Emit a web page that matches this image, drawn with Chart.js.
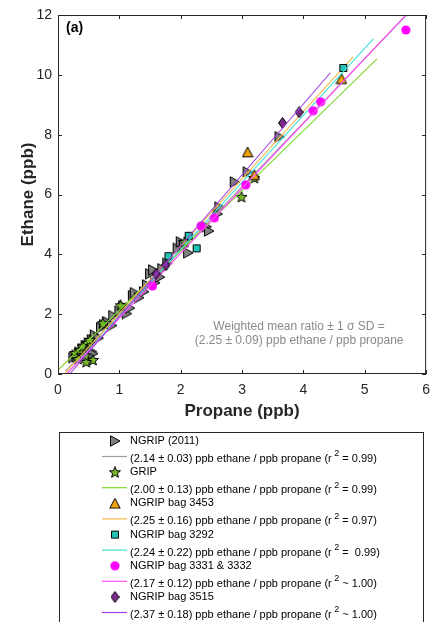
<!DOCTYPE html>
<html>
<head>
<meta charset="utf-8">
<script src="https://cdn.jsdelivr.net/npm/chart.js@4.4.0/dist/chart.umd.min.js"></script>
<style>
  html, body { margin: 0; padding: 0; background: #fff; }
</style>
</head>
<body>
<canvas id="grafico" width="438" height="622"></canvas>
<script>
// data (propane ppb, ethane ppb)
const ngrip2011 = [
  [0.25, 0.55], [0.3, 0.62], [0.35, 0.72], [0.4, 0.85], [0.45, 0.95], [0.5, 1.02],
  [0.55, 0.75], [0.57, 0.68], [0.55, 1.15], [0.6, 1.3], [0.66, 1.2], [0.7, 1.55],
  [0.75, 1.65], [0.8, 1.75], [0.88, 1.62], [0.9, 1.95], [1.0, 2.1], [1.06, 2.27],
  [1.12, 2.02], [1.17, 2.2], [1.22, 2.62], [1.25, 2.72], [1.32, 2.55], [1.4, 2.75],
  [1.45, 2.98], [1.5, 3.35], [1.55, 3.48], [1.58, 3.05], [1.66, 3.24], [1.7, 3.52],
  [1.78, 3.7], [1.95, 4.2], [2.0, 4.42], [2.05, 4.3], [2.12, 4.05], [2.42, 4.92],
  [2.46, 4.78], [2.6, 5.35], [2.63, 5.58], [2.88, 6.42], [3.09, 6.75], [3.61, 7.93]
];
const grip = [
  [0.28, 0.7], [0.36, 0.8], [0.49, 1.04], [0.52, 1.14], [0.57, 0.47], [0.46, 0.4],
  [0.29, 0.57], [0.4, 0.92], [0.45, 0.62], [0.33, 0.5], [0.73, 1.7], [1.02, 2.3],
  [2.06, 4.41], [2.99, 5.92], [3.2, 6.55]
];
const bag3453 = [[3.09, 7.42], [3.2, 6.66], [4.62, 9.87]];
const bag3292 = [[1.8, 3.94], [2.13, 4.62], [2.26, 4.2], [4.65, 10.23]];
const bag3331 = [[1.54, 2.94], [2.33, 4.95], [2.55, 5.22], [3.06, 6.32], [4.16, 8.8], [4.28, 9.1], [5.67, 11.5]];
const bag3515 = [[1.6, 3.35], [1.76, 3.64], [3.66, 8.39], [3.93, 8.75]];

// fitted lines, start and end points
const fit2011 = [[0.12, 0.1], [5.68, 12]];
const fitGrip = [[0, 0.13], [5.2, 10.53]];
const fit3453 = [[0.1, 0], [4.81, 10.6]];
const fit3292 = [[0.14, 0], [5.14, 11.2]];
const fit3331 = [[0.14, 0], [5.67, 12]];
const fit3515 = [[0.19, 0], [4.44, 10.07]];

const labels = [
  'NGRIP (2011)',
  '(2.14 ± 0.03) ppb ethane / ppb propane (r^2 = 0.99)',
  'GRIP',
  '(2.00 ± 0.13) ppb ethane / ppb propane (r^2 = 0.99)',
  'NGRIP bag 3453',
  '(2.25 ± 0.16) ppb ethane / ppb propane (r^2 = 0.97)',
  'NGRIP bag 3292',
  '(2.24 ± 0.22) ppb ethane / ppb propane (r^2 =  0.99)',
  'NGRIP bag 3331 & 3332',
  '(2.17 ± 0.12) ppb ethane / ppb propane (r^2 ~ 1.00)',
  'NGRIP bag 3515',
  '(2.37 ± 0.18) ppb ethane / ppb propane (r^2 ~ 1.00)'
];
const noteLines = ['Weighted mean ratio ± 1 σ SD =', '(2.25 ± 0.09) ppb ethane / ppb propane'];

const FONT = '"Liberation Sans", Arial, Helvetica, sans-serif';
const AXIS = '#262626';

function pts(arr) {
  return arr.map(p => ({ x: p[0], y: p[1] }));
}

// marker images
function marker(shape, fill, stroke) {
  const c = document.createElement('canvas');
  let w = 12, h = 12;
  if (shape === 'diamond') { w = 9; h = 12; }
  if (shape === 'square' || shape === 'circle') { w = 10; h = 10; }
  c.width = w; c.height = h;
  const g = c.getContext('2d');
  g.beginPath();
  if (shape === 'triRight') {
    g.moveTo(1.5, 0.8); g.lineTo(11, 6); g.lineTo(1.5, 11.2);
  } else if (shape === 'triUp') {
    g.moveTo(0.8, 10.8); g.lineTo(6, 1); g.lineTo(11.2, 10.8);
  } else if (shape === 'star') {
    for (let i = 0; i < 10; i++) {
      const r = i % 2 ? 2.5 : 5.8;
      const a = -Math.PI / 2 + i * Math.PI / 5;
      const px = 6 + r * Math.cos(a), py = 6.4 + r * Math.sin(a);
      if (i === 0) g.moveTo(px, py); else g.lineTo(px, py);
    }
  } else if (shape === 'square') {
    g.rect(1.5, 1.5, 7, 7);
  } else if (shape === 'circle') {
    g.arc(5, 5, 4.6, 0, Math.PI * 2);
  } else if (shape === 'diamond') {
    g.moveTo(4.5, 0.5); g.lineTo(8.5, 6); g.lineTo(4.5, 11.5); g.lineTo(0.5, 6);
  }
  g.closePath();
  g.fillStyle = fill;
  g.fill();
  if (stroke) {
    g.strokeStyle = stroke;
    g.lineWidth = 1;
    g.stroke();
  }
  return c;
}

const mk2011 = marker('triRight', '#808080', '#000');
const mkGrip = marker('star', '#77b82a', '#000');
const mk3453 = marker('triUp', '#f0a30a', '#000');
const mk3292 = marker('square', '#22c3b2', '#000');
const mk3331 = marker('circle', '#ff00ff', null);
const mk3515 = marker('diamond', '#7b2a8e', '#000');

// later series are painted over earlier ones, as in the original plot
function scatterSet(i, data, img) {
  return { label: labels[i], data: pts(data), pointStyle: img, pointRadius: 5, pointHoverRadius: 5, showLine: false, order: 100 - i };
}
function lineSet(i, data, color) {
  return { label: labels[i], data: pts(data), showLine: true, borderColor: color, borderWidth: 1.1, pointRadius: 0, order: 100 - i, fill: false };
}

const datasets = [
  scatterSet(0, ngrip2011, mk2011),
  lineSet(1, fit2011, '#a0a0a0'),
  scatterSet(2, grip, mkGrip),
  lineSet(3, fitGrip, '#7fd82a'),
  scatterSet(4, bag3453, mk3453),
  lineSet(5, fit3453, '#f7b84a'),
  scatterSet(6, bag3292, mk3292),
  lineSet(7, fit3292, '#3fe0d6'),
  scatterSet(8, bag3331, mk3331),
  lineSet(9, fit3331, '#ff4ef6'),
  scatterSet(10, bag3515, mk3515),
  lineSet(11, fit3515, '#a23fe0')
];

// box, inward ticks on all sides, panel label and note
const framePlugin = {
  id: 'frame',
  afterDatasetsDraw(chart) {
    const { ctx, chartArea: a, scales: { x, y } } = chart;
    ctx.save();
    ctx.strokeStyle = AXIS;
    ctx.lineWidth = 1;
    ctx.strokeRect(a.left + 0.5, a.top + 0.5, a.right - a.left - 1, a.bottom - a.top - 1);
    ctx.beginPath();
    x.ticks.forEach(t => {
      const px = Math.round(x.getPixelForValue(t.value)) + 0.5;
      ctx.moveTo(px, a.bottom); ctx.lineTo(px, a.bottom - 4);
      ctx.moveTo(px, a.top); ctx.lineTo(px, a.top + 4);
    });
    y.ticks.forEach(t => {
      const py = Math.round(y.getPixelForValue(t.value)) + 0.5;
      ctx.moveTo(a.left, py); ctx.lineTo(a.left + 4, py);
      ctx.moveTo(a.right, py); ctx.lineTo(a.right - 4, py);
    });
    ctx.stroke();

    ctx.fillStyle = '#000';
    ctx.font = 'bold 14px ' + FONT;
    ctx.textBaseline = 'middle';
    ctx.textAlign = 'left';
    ctx.fillText('(a)', x.getPixelForValue(0.13), y.getPixelForValue(11.57));

    ctx.fillStyle = '#8a8a8a';
    ctx.font = '12px ' + FONT;
    ctx.textAlign = 'center';
    ctx.fillText(noteLines[0], x.getPixelForValue(3.93), y.getPixelForValue(1.57));
    ctx.fillText(noteLines[1], x.getPixelForValue(3.93), y.getPixelForValue(1.1));
    ctx.restore();
  }
};

// boxed legend under the axes
const legendPlugin = {
  id: 'boxLegend',
  afterDraw(chart) {
    const ctx = chart.ctx;
    ctx.save();
    ctx.strokeStyle = AXIS;
    ctx.lineWidth = 1;
    ctx.strokeRect(59.5, 432.5, 364, 200);
    ctx.textBaseline = 'middle';
    ctx.textAlign = 'left';
    ctx.fillStyle = '#000';
    chart.data.datasets.forEach((ds, i) => {
      const pair = Math.floor(i / 2);
      const rowY = 441 + pair * 31.2 + (i % 2 ? 18 : 0);
      if (ds.showLine) {
        ctx.strokeStyle = ds.borderColor;
        ctx.lineWidth = 1.2;
        ctx.beginPath();
        ctx.moveTo(102, rowY - 2.5);
        ctx.lineTo(127, rowY - 2.5);
        ctx.stroke();
      } else {
        const img = ds.pointStyle;
        ctx.drawImage(img, 115 - img.width / 2, rowY - img.height / 2);
      }
      const parts = ds.label.split('^2');
      ctx.font = '11px ' + FONT;
      ctx.fillText(parts[0], 130, rowY);
      if (parts.length > 1) {
        let xx = 130 + ctx.measureText(parts[0]).width + 2.5;
        ctx.font = '9px ' + FONT;
        ctx.fillText('2', xx, rowY - 5);
        xx += ctx.measureText('2').width;
        ctx.font = '11px ' + FONT;
        ctx.fillText(parts[1], xx, rowY);
      }
    });
    ctx.restore();
  }
};

const config = {
  type: 'scatter',
  data: { datasets: datasets },
  options: {
    responsive: false,
    animation: false,
    events: [],
    layout: { padding: { left: 0, right: 11, top: 15, bottom: 198 } },
    plugins: {
      legend: { display: false },
      tooltip: { enabled: false }
    },
    scales: {
      x: {
        type: 'linear',
        min: 0, max: 6,
        afterFit(scale) { scale.height = 50; },
        ticks: { stepSize: 1, color: AXIS, padding: 8, font: { family: FONT, size: 14 } },
        grid: { display: false, drawTicks: false },
        border: { display: false },
        title: { display: true, text: 'Propane (ppb)', color: AXIS, padding: { top: 0, bottom: 2 }, font: { family: FONT, size: 17, weight: 'bold' } }
      },
      y: {
        type: 'linear',
        min: 0, max: 12,
        afterFit(scale) { scale.width = 58; },
        ticks: { stepSize: 2, color: AXIS, padding: 6, font: { family: FONT, size: 14 } },
        grid: { display: false, drawTicks: false },
        border: { display: false },
        title: { display: true, text: 'Ethane (ppb)', color: AXIS, padding: { top: 18, bottom: 0 }, font: { family: FONT, size: 17, weight: 'bold' } }
      }
    }
  },
  plugins: [framePlugin, legendPlugin]
};

const chart = new Chart(document.getElementById('grafico').getContext('2d'), config);
</script>
</body>
</html>
